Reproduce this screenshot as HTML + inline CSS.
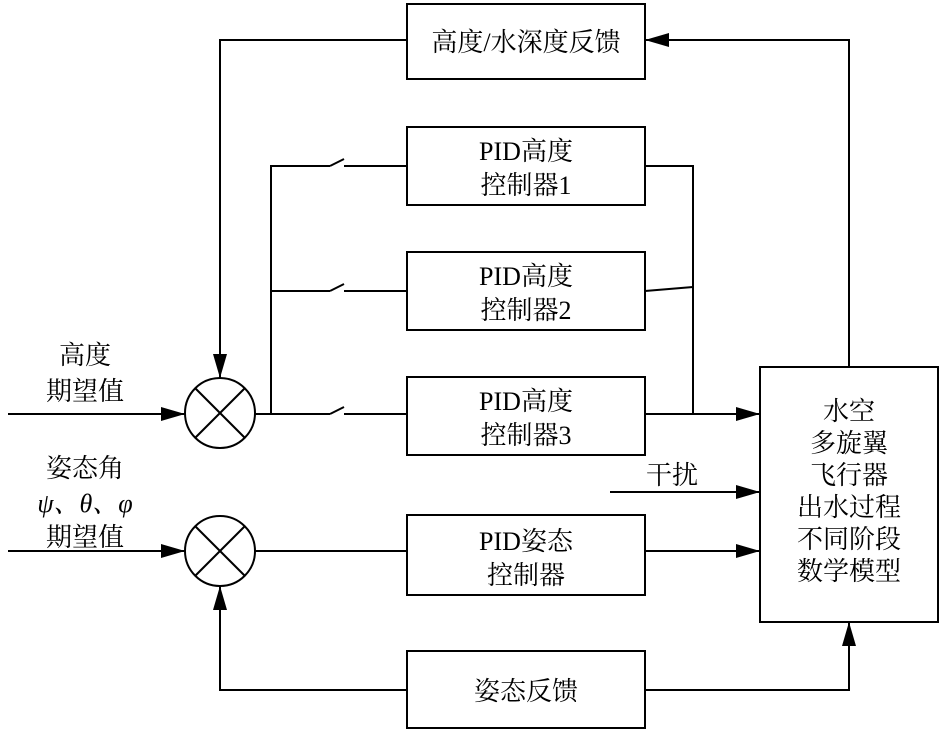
<!DOCTYPE html>
<html><head><meta charset="utf-8"><style>
body{margin:0;background:#fff}
svg text{font-family:"Liberation Serif","Noto Serif CJK SC",serif;font-size:26px;fill:#000;text-anchor:middle}
</style></head><body>
<svg width="945" height="733" viewBox="0 0 945 733" xmlns="http://www.w3.org/2000/svg">
<defs>
<marker id="b" markerWidth="24" markerHeight="14" refX="24" refY="7" orient="auto" markerUnits="userSpaceOnUse"><path d="M0,0 L24,7 L0,14z" fill="#000"/></marker></defs>
<g fill="none" stroke="#000" stroke-width="2">
<rect x="407" y="4" width="238" height="75"/>
<rect x="407" y="127" width="238" height="78"/>
<rect x="407" y="252" width="238" height="78"/>
<rect x="407" y="377" width="238" height="78"/>
<rect x="407" y="515" width="238" height="80"/>
<rect x="407" y="651" width="238" height="77"/>
<rect x="760" y="367" width="178" height="255"/>
<circle cx="220" cy="413" r="35"/>
<line x1="195" y1="388" x2="245" y2="438"/><line x1="245" y1="388" x2="195" y2="438"/>
<circle cx="220" cy="551" r="35"/>
<line x1="195" y1="526" x2="245" y2="576"/><line x1="245" y1="526" x2="195" y2="576"/>
<polyline points="407,40 220,40 220,378" marker-end="url(#b)"/>
<polyline points="849,367 849,40 645,40" marker-end="url(#b)"/>
<line x1="8" y1="414" x2="185" y2="414" marker-end="url(#b)"/>
<line x1="8" y1="551" x2="185" y2="551" marker-end="url(#b)"/>
<line x1="255" y1="414" x2="330" y2="414"/>
<polyline points="271,414 271,166 330,166"/>
<line x1="271" y1="291" x2="330" y2="291"/>
<line x1="330" y1="166" x2="344" y2="159"/><line x1="344" y1="166" x2="407" y2="166"/>
<line x1="330" y1="291" x2="344" y2="284"/><line x1="344" y1="291" x2="407" y2="291"/>
<line x1="330" y1="414" x2="344" y2="407"/><line x1="344" y1="414" x2="407" y2="414"/>
<polyline points="645,166 693,166 693,414"/>
<line x1="645" y1="291" x2="693" y2="287"/>
<line x1="645" y1="414" x2="760" y2="414" marker-end="url(#b)"/>
<line x1="610" y1="492" x2="760" y2="492" marker-end="url(#b)"/>
<line x1="255" y1="551" x2="407" y2="551"/>
<line x1="645" y1="551" x2="760" y2="551" marker-end="url(#b)"/>
<polyline points="407,690 220,690 220,586" marker-end="url(#b)"/>
<polyline points="645,690 849,690 849,622" marker-end="url(#b)"/>
</g>
<text x="526" y="51">高度/水深度反馈</text>
<text x="526" y="160">PID高度</text><text x="526" y="194">控制器1</text>
<text x="526" y="285">PID高度</text><text x="526" y="319">控制器2</text>
<text x="526" y="410">PID高度</text><text x="526" y="444">控制器3</text>
<text x="526" y="550">PID姿态</text><text x="526" y="584">控制器</text>
<text x="526" y="700">姿态反馈</text>
<text x="85" y="364">高度</text><text x="85" y="400">期望值</text>
<text x="85" y="477">姿态角</text><text x="85" y="512" font-style="italic">ψ、θ、φ</text><text x="85" y="546">期望值</text>
<text x="672" y="484">干扰</text>
<text x="849" y="420">水空</text><text x="849" y="452">多旋翼</text><text x="849" y="484">飞行器</text>
<text x="849" y="516">出水过程</text><text x="849" y="548">不同阶段</text><text x="849" y="580">数学模型</text>
</svg>
</body></html>
